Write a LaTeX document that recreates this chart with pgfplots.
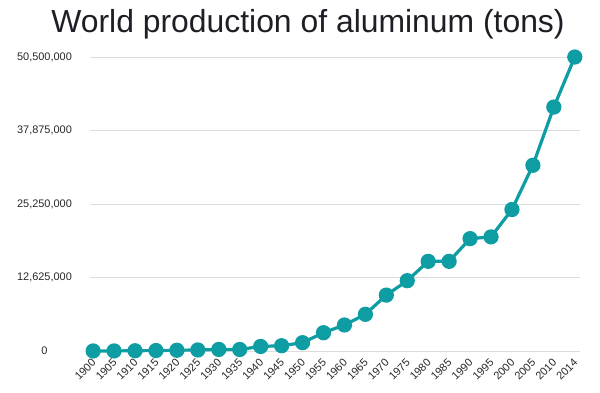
\documentclass[border=0pt]{standalone}
\usepackage{pgfplots}
\pgfplotsset{compat=1.18}
\usepackage{fontspec}
\setmainfont{Liberation Sans}
\definecolor{teal1}{RGB}{14,157,163}
\definecolor{gridc}{RGB}{220,220,220}
\definecolor{tickc}{RGB}{40,40,40}
\definecolor{titlec}{RGB}{30,30,38}
\begin{document}
\begin{tikzpicture}[x=1bp,y=1bp]
\useasboundingbox (0,0) rectangle (600,392);
\node[font=\fontsize{32}{36}\selectfont, text=titlec, anchor=base, inner sep=0pt] at (308,359.5) {World production of aluminum (tons)};
\begin{axis}[
  at={(90bp,41bp)}, anchor=south west,
  scale only axis, width=490bp, height=294bp,
  xmin=-0.15, xmax=23.25, ymin=0, ymax=50.5,
  axis line style={draw=none},
  tick style={draw=none},
  ymajorgrids, grid style={gridc, line width=0.8bp},
  ytick={0,12.625,25.25,37.875,50.5},
  yticklabels={0,{12,625,000},{25,250,000},{37,875,000},{50,500,000}},
  yticklabel style={anchor=center, xshift=-45.5bp, font=\fontsize{11}{13}\selectfont, text=tickc},
  xtick={0,...,23},
  xticklabels={1900,1905,1910,1915,1920,1925,1930,1935,1940,1945,1950,1955,1960,1965,1970,1975,1980,1985,1990,1995,2000,2005,2010,2014},
  xticklabel style={xshift=-2bp, yshift=-5.5bp, rotate=45, anchor=north east, inner sep=1bp, font=\fontsize{11}{13}\selectfont, text=tickc},
  clip=false,
]
\addplot[teal1, line width=3.2bp, mark=*, mark size=6bp, mark options={fill=teal1, draw=none}] coordinates {
(0,0.008) (1,0.012) (2,0.045) (3,0.081) (4,0.128) (5,0.181) (6,0.27) (7,0.26) (8,0.78) (9,0.91)
(10,1.43) (11,3.14) (12,4.47) (13,6.3) (14,9.6) (15,12.08) (16,15.4) (17,15.4) (18,19.3) (19,19.6)
(20,24.3) (21,31.9) (22,41.9) (23,50.5)
};
\end{axis}
\end{tikzpicture}
\end{document}
